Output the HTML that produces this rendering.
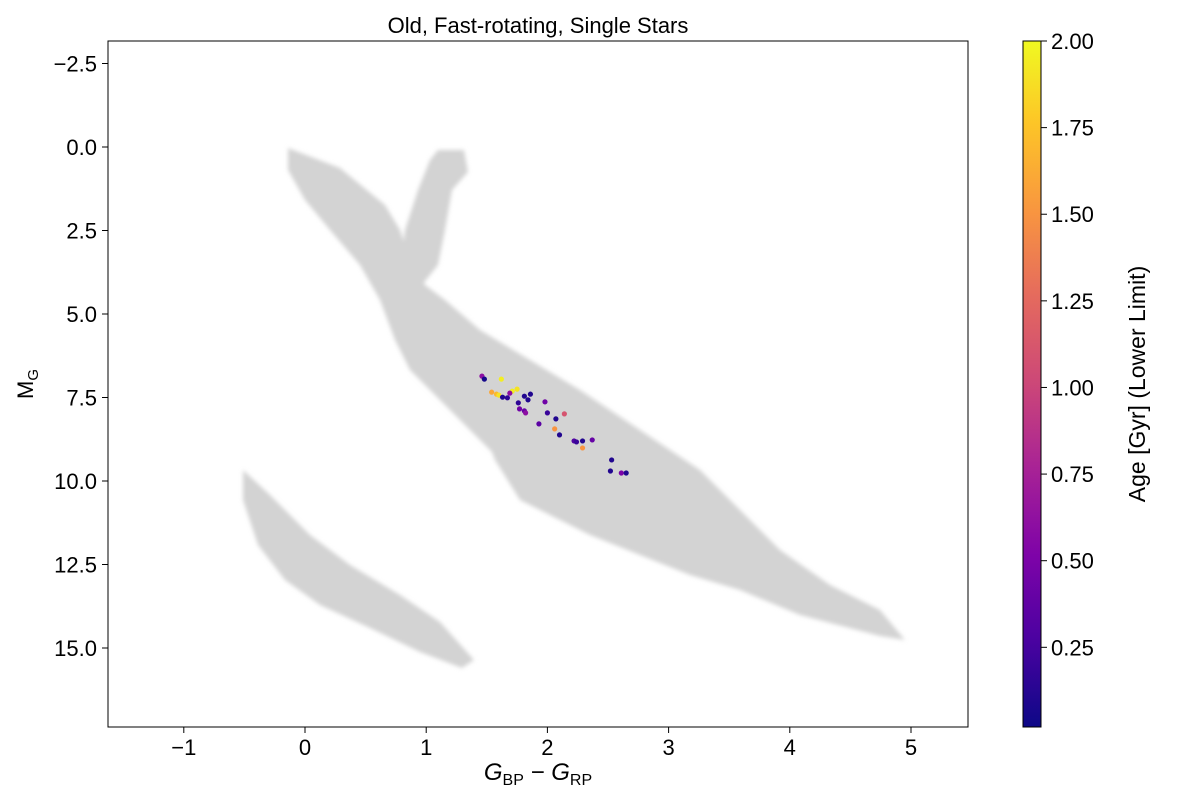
<!DOCTYPE html>
<html><head><meta charset="utf-8"><style>
body{margin:0;background:#fff;font-family:"Liberation Sans","DejaVu Sans",sans-serif}
svg text{font-family:"Liberation Sans","DejaVu Sans",sans-serif}
</style></head><body>
<svg id="chart" width="1200" height="800" xmlns="http://www.w3.org/2000/svg">
<defs>
<linearGradient id="plasma" x1="0" y1="1" x2="0" y2="0">
<stop offset="0" stop-color="#0d0887"/><stop offset="0.13" stop-color="#4c02a1"/><stop offset="0.25" stop-color="#7e03a8"/><stop offset="0.38" stop-color="#a92395"/><stop offset="0.5" stop-color="#cc4778"/><stop offset="0.63" stop-color="#e56b5d"/><stop offset="0.75" stop-color="#f89540"/><stop offset="0.88" stop-color="#fdc527"/><stop offset="1" stop-color="#f0f921"/>
</linearGradient>
<filter id="soft"><feGaussianBlur stdDeviation="2"/></filter>
</defs>
<text x="538" y="33" font-size="22" text-anchor="middle">Old, Fast-rotating, Single Stars</text>
<g fill="#d3d3d3" filter="url(#soft)">
<polygon points="288,148 340,168 385,205 400,230 410,260 425,285 445,300 480,330 530,360 580,390 640,430 700,470 740,510 780,550 830,585 880,610 905,640 880,636 800,615 740,590 690,575 640,555 590,535 550,515 520,490 500,460 470,430 440,400 410,370 395,340 380,300 360,265 330,230 305,200 288,170"/>
<polygon points="480,420 520,440 560,480 600,520 560,520 520,500 495,460"/>
<polygon points="400,275 405,230 418,190 430,160 438,150 464,150 468,172 452,190 445,230 438,265 422,285"/>
<polygon points="243,470 270,495 310,535 350,565 400,595 440,622 474,660 462,668 420,652 370,628 320,605 285,580 258,545 243,500"/>
</g>
<g id="points"></g>
<rect x="108" y="41" width="860" height="686" fill="none" stroke="#000" stroke-width="1"/>
<g id="axes" font-size="22"></g>
<text x="538" y="780" font-size="24" text-anchor="middle" font-style="italic">G<tspan font-size="16" dy="5" font-style="normal">BP</tspan><tspan dy="-5"> − G</tspan><tspan font-size="16" dy="5" font-style="normal">RP</tspan></text>
<text transform="translate(33,384) rotate(-90)" font-size="22" text-anchor="middle">M<tspan font-size="15" dy="5">G</tspan></text>
<rect x="1023" y="41" width="18" height="686" fill="url(#plasma)" stroke="#000" stroke-width="1"/>
<g id="cbaxis" font-size="22"></g>
<text transform="translate(1145,384) rotate(-90)" font-size="23" text-anchor="middle">Age [Gyr] (Lower Limit)</text>
</svg>
<script>
const xTicks=[-1,0,1,2,3,4,5];
const yTicks=[-2.5,0,2.5,5,7.5,10,12.5,15];
const cbTicks=[0.25,0.5,0.75,1,1.25,1.5,1.75,2];
const starColor=[1.46,1.48,1.62,1.54,1.58,1.60,1.71,1.75,1.69,1.63,1.67,1.81,1.86,1.84,1.76,1.98,1.77,1.81,1.82,2.00,2.14,2.07,1.93,2.06,2.10,2.22,2.24,2.29,2.37,2.29,2.53,2.52,2.61,2.65];
const starMag=[6.86,6.95,6.95,7.34,7.40,7.43,7.31,7.25,7.37,7.49,7.51,7.46,7.40,7.57,7.66,7.63,7.84,7.90,7.96,7.96,7.99,8.14,8.29,8.44,8.62,8.80,8.83,8.80,8.77,9.01,9.37,9.70,9.76,9.76];
const starAge=[0.6,0.05,1.95,1.6,1.7,1.9,1.95,1.9,0.6,0.1,0.15,0.1,0.1,0.1,0.15,0.45,0.45,0.4,0.6,0.2,1.1,0.1,0.35,1.5,0.1,0.3,0.2,0.1,0.4,1.5,0.1,0.1,0.5,0.1];
const NS="http://www.w3.org/2000/svg";
const xs=v=>305+v*121.2, ys=v=>147+v*33.4;
const cmin=0.02,cmax=2.0;
const cy=v=>727-(v-cmin)/(cmax-cmin)*686;
const stops=[[0,[13,8,135]],[0.13,[76,2,161]],[0.25,[126,3,168]],[0.38,[169,35,149]],[0.5,[204,71,120]],[0.63,[229,107,93]],[0.75,[248,149,64]],[0.88,[253,197,39]],[1,[240,249,33]]];
function plasma(t){t=Math.max(0,Math.min(1,t));for(let i=1;i<stops.length;i++){if(t<=stops[i][0]){const a=stops[i-1],b=stops[i],f=(t-a[0])/(b[0]-a[0]);return 'rgb('+a[1].map((c,k)=>Math.round(c+(b[1][k]-c)*f)).join(',')+')';}}return 'rgb(240,249,33)';}
function mk(tag,attrs,parent){const e=document.createElementNS(NS,tag);for(const k in attrs)e.setAttribute(k,attrs[k]);parent.appendChild(e);return e;}
const pts=document.getElementById('points');
starColor.forEach((c,i)=>{const e=mk('circle',{cx:xs(c),cy:ys(starMag[i]),r:2.6,fill:plasma((starAge[i]-cmin)/(cmax-cmin))},pts);

});
const ax=document.getElementById('axes');
xTicks.forEach(v=>{const x=xs(v);mk('line',{x1:x,x2:x,y1:727,y2:733,stroke:'#000'},ax);const t=mk('text',{x:x,y:755,'text-anchor':'middle'},ax);t.textContent=v<0?'−'+Math.abs(v):v;

});
yTicks.forEach(v=>{const y=ys(v);mk('line',{x1:102,x2:108,y1:y,y2:y,stroke:'#000'},ax);const t=mk('text',{x:97,y:y+8,'text-anchor':'end'},ax);t.textContent=(v<0?'−':'')+Math.abs(v).toFixed(1);

});
const cb=document.getElementById('cbaxis');
cbTicks.forEach(v=>{const y=cy(v);mk('line',{x1:1041,x2:1047,y1:y,y2:y,stroke:'#000'},cb);const t=mk('text',{x:1051,y:y+8},cb);t.textContent=v.toFixed(2);

});
</script>
</body></html>
